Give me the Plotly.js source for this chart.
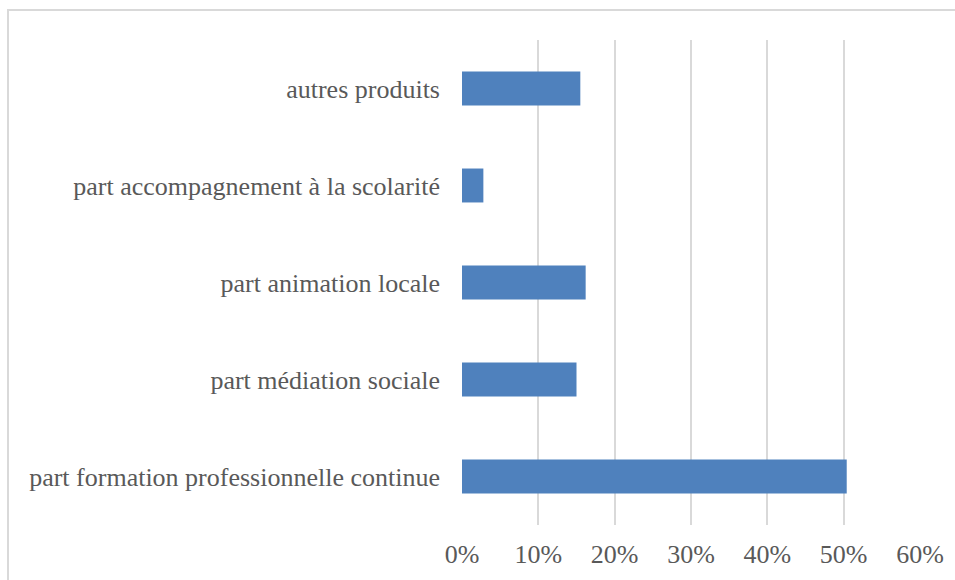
<!DOCTYPE html>
<html>
<head>
<meta charset="utf-8">
<script src="https://cdn.plot.ly/plotly-3.0.1.min.js"></script>
<style>
html,body{margin:0;padding:0;background:#fff;overflow:hidden;}
#wrap{position:relative;width:955px;height:580px;}
#chart{position:absolute;left:0;top:0;width:955px;height:580px;}
#frame{position:absolute;left:7px;top:9px;width:1000px;height:700px;border:2px solid #d9d9d9;box-sizing:border-box;pointer-events:none;}
</style>
</head>
<body>
<div id="wrap"><div id="chart"></div><div id="frame"></div></div>
<script>
const categories = [
  "autres produits",
  "part accompagnement à la scolarité",
  "part animation locale",
  "part médiation sociale",
  "part formation professionnelle continue"
];
const values = [0.155, 0.028, 0.162, 0.150, 0.504];
const tickValues = [0, 0.1, 0.2, 0.3, 0.4, 0.5, 0.6];
const tickLabels = ["0%", "10%", "20%", "30%", "40%", "50%", "60%"];

const trace = {
  type: "bar",
  orientation: "h",
  x: values,
  y: categories,
  marker: {color: "#4f81bd"},
  hoverinfo: "none"
};

const layout = {
  width: 955,
  height: 580,
  margin: {l: 462, r: 35, t: 40, b: 55, pad: 0},
  paper_bgcolor: "rgba(0,0,0,0)",
  plot_bgcolor: "#fff",
  font: {family: "Liberation Serif, serif", size: 26, color: "#595959"},
  showlegend: false,
  bargap: 0.65,
  xaxis: {
    range: [0, 0.6],
    tickvals: tickValues,
    ticktext: tickLabels,
    showgrid: true,
    gridcolor: "#d9d9d9",
    gridwidth: 2,
    zeroline: false,
    showline: false,
    ticks: "",
    ticklabelstandoff: 11,
    fixedrange: true
  },
  yaxis: {
    type: "category",
    autorange: "reversed",
    showgrid: false,
    zeroline: false,
    showline: false,
    ticks: "",
    ticklabelstandoff: 21,
    fixedrange: true
  }
};

Plotly.newPlot("chart", [trace], layout, {displayModeBar: false, staticPlot: true});
</script>
</body>
</html>
